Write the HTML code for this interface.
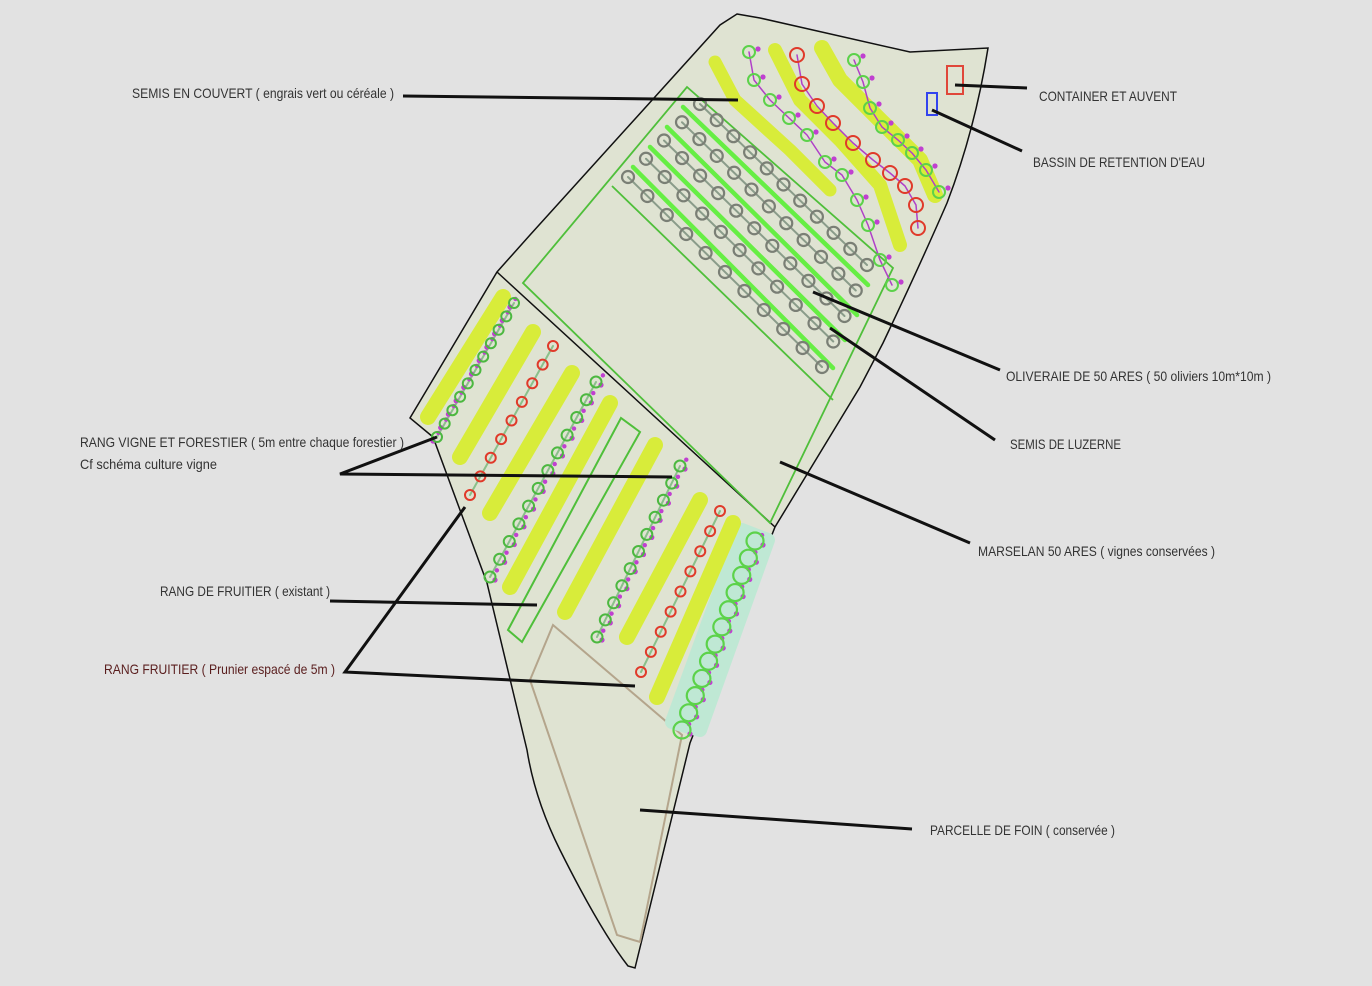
<!DOCTYPE html>
<html><head><meta charset="utf-8"><style>
html,body{margin:0;padding:0;background:#e2e2e2;}
svg{display:block}
text{font-family:"Liberation Sans",sans-serif;font-size:14px;fill:#333;}
</style></head><body>
<svg id="s" width="1372" height="986" viewBox="0 0 1372 986" xmlns="http://www.w3.org/2000/svg">
<rect width="1372" height="986" fill="#e2e2e2"/>
<!-- outer parcel -->
<path d="M737,14 L760,18 L910,52 L988,48 Q975,130 947,203 Q920,265 883,343 L860,387 L775,527 L690,743 L635,968 L628,966 Q600,930 560,850 Q535,800 527,750 L487,583 L433,437 L410,418 L497,272 L530,235 L720,25 Z" fill="#dfe3d2" stroke="#111" stroke-width="1.5"/>
<line x1="497" y1="272" x2="775" y2="527" stroke="#111" stroke-width="1.5"/>
<!-- marselan + oliveraie -->
<path d="M523,283 L687,87 L893,268 L770,523 Z" fill="none" stroke="#4fbf3a" stroke-width="1.8"/>
<line x1="612" y1="186" x2="833" y2="400" stroke="#4fbf3a" stroke-width="1.8"/>
<!-- tan parcel -->
<path d="M553,625 L682,735 L640,942 L617,935 L530,680 Z" fill="none" stroke="#b4a58c" stroke-width="2"/>
<!-- teal band -->
<path d="M742,530 L768,540 L700,730 L672,722 Z" fill="#bfe8d4" stroke="#bfe8d4" stroke-width="14" stroke-linejoin="round"/>
<g id="g"></g>
<!-- small rects -->
<rect x="947" y="66" width="16" height="28" fill="none" stroke="#e0473a" stroke-width="2"/>
<rect x="927" y="93" width="10" height="22" fill="none" stroke="#3344ee" stroke-width="2"/>
<!-- leaders -->
<g stroke="#111" stroke-width="3" fill="none">
<line x1="403" y1="96" x2="738" y2="100"/>
<line x1="955" y1="85" x2="1027" y2="88"/>
<line x1="932" y1="110" x2="1022" y2="151"/>
<line x1="813" y1="292" x2="1000" y2="370"/>
<line x1="830" y1="328" x2="995" y2="440"/>
<line x1="780" y1="462" x2="970" y2="543"/>
<polyline points="437,437 340,474 672,477"/>
<line x1="330" y1="601" x2="537" y2="605"/>
<polyline points="465,507 345,672 635,686"/>
<line x1="640" y1="810" x2="912" y2="829"/>
</g>
<text x="132" y="98" textLength="262" lengthAdjust="spacingAndGlyphs">SEMIS EN COUVERT ( engrais vert ou céréale )</text>
<text x="1039" y="101" textLength="138" lengthAdjust="spacingAndGlyphs">CONTAINER ET AUVENT</text>
<text x="1033" y="167" textLength="172" lengthAdjust="spacingAndGlyphs">BASSIN DE RETENTION D'EAU</text>
<text x="1006" y="381" textLength="265" lengthAdjust="spacingAndGlyphs">OLIVERAIE DE 50 ARES ( 50 oliviers 10m*10m )</text>
<text x="1010" y="449" textLength="111" lengthAdjust="spacingAndGlyphs">SEMIS DE LUZERNE</text>
<text x="978" y="556" textLength="237" lengthAdjust="spacingAndGlyphs">MARSELAN 50 ARES ( vignes conservées )</text>
<text x="80" y="447" textLength="324" lengthAdjust="spacingAndGlyphs">RANG VIGNE ET FORESTIER ( 5m entre chaque forestier )</text>
<text x="80" y="469" textLength="137" lengthAdjust="spacingAndGlyphs">Cf schéma culture vigne</text>
<text x="160" y="596" textLength="170" lengthAdjust="spacingAndGlyphs">RANG DE FRUITIER ( existant )</text>
<text x="104" y="674" textLength="231" lengthAdjust="spacingAndGlyphs" style="fill:#5a1e1e">RANG FRUITIER ( Prunier espacé de 5m )</text>
<text x="930" y="835" textLength="185" lengthAdjust="spacingAndGlyphs">PARCELLE DE FOIN ( conservée )</text>
</svg>
<script>
var g=document.getElementById('g'),NS='http://www.w3.org/2000/svg';
function el(t,a){var e=document.createElementNS(NS,t);for(var k in a)e.setAttribute(k,a[k]);g.appendChild(e);return e;}
function L(p,c,w){el('polyline',{points:p.map(function(q){return q.join(',')}).join(' '),fill:'none',stroke:c,'stroke-width':w,'stroke-linecap':'round','stroke-linejoin':'round'});}
function row(x1,y1,x2,y2,n,r,c,sw,lc,dots){
 if(lc)L([[x1,y1],[x2,y2]],lc,2);
 for(var i=0;i<n;i++){var t=n>1?i/(n-1):0,x=x1+(x2-x1)*t,y=y1+(y2-y1)*t;
  if(dots){el('circle',{cx:x+dots[0],cy:y+dots[1],r:2.6,fill:'#c040d0'});el('circle',{cx:x+dots[0]/2+(x2-x1)/(2*n),cy:y+dots[1]/2+(y2-y1)/(2*n),r:2.2,fill:'#c040d0'});}
  el('circle',{cx:x,cy:y,r:r,fill:'none',stroke:c,'stroke-width':sw});}
}
function curveRow(pts,r,c,lc,dots){
 L(pts,lc,1.5);
 pts.forEach(function(p){ if(dots){el('circle',{cx:p[0]+dots[0],cy:p[1]+dots[1],r:2.6,fill:'#c040d0'});}
 el('circle',{cx:p[0],cy:p[1],r:r,fill:'none',stroke:c,'stroke-width':2});});
}
// yellow strokes top
var Y='#d8ec3a';
L([[715,62],[735,100],[790,150],[830,190]],Y,13);
L([[775,50],[800,100],[840,140],[880,185],[900,245]],Y,14);
L([[822,48],[840,80],[880,120],[920,160],[935,195]],Y,16);
// top vine rows
curveRow([[749,52],[754,80],[770,100],[789,118],[807,135],[825,162],[842,175],[857,200],[868,225],[880,260],[892,285]],6,'#5cd24a','#b040c8',[9,-3]);
curveRow([[797,55],[802,84],[817,106],[833,123],[853,143],[873,160],[890,173],[905,186],[916,205],[918,228]],7,'#e03a2a','#b040c8');
curveRow([[854,60],[863,82],[870,108],[882,127],[898,140],[912,153],[926,170],[939,192]],6,'#5cd24a','#b040c8',[9,-4]);
// olive rows
var gl=[[683,107,868,285],[667,127,857,315],[650,147,845,340],[633,167,833,368]];
gl.forEach(function(a){L([[a[0],a[1]],[a[2],a[3]]],'#66ee44',4.5);});
for(var i=0;i<5;i++){var t=i/4;
 row(700-72*t,104+73*t,867-45*t,265+102*t,11,6,'#7a7f75',2.2,'#8a9c8a');}
// bottom vine section yellow
var ys=[[428,417,503,297],[460,457,533,332],[490,513,572,373],[510,587,610,403],[565,612,655,445],[627,637,700,500],[657,697,733,523]];
ys.forEach(function(a){L([[a[0],a[1]],[a[2],a[3]]],Y,16);});
// green rect
el('path',{d:'M508,630 L621,418 L640,432 L522,642 Z',fill:'none',stroke:'#4fbf3a','stroke-width':2});
// rows
row(437,437,514,303,11,5,'#4cb840',2,'#8ac08a',[-4,4]);
row(470,495,553,346,9,5,'#e03a2a',2,'#8ac08a');
row(490,577,596,382,12,5.5,'#4cb840',2,'#8ac08a',[5,3]);
row(597,637,680,466,11,5.5,'#4cb840',2,'#8ac08a',[5,3]);
row(641,672,720,511,9,5,'#e03a2a',2,'#8ac08a');
row(682,730,755,541,12,8.5,'#5cd24a',2.2,null,[8,4]);
</script>
</body></html>
